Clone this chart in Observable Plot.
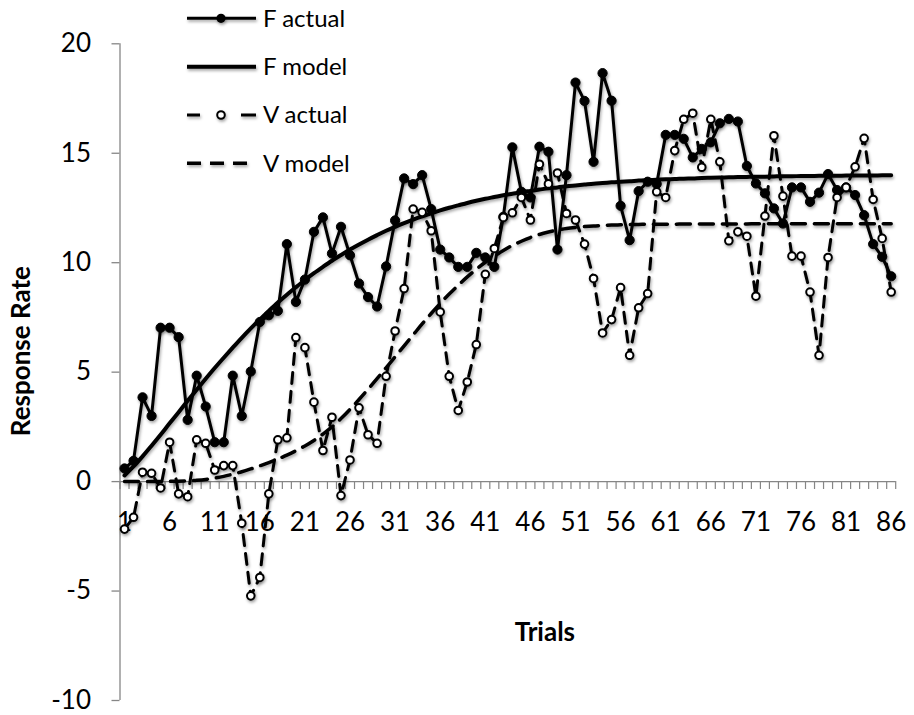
<!DOCTYPE html>
<html>
<head>
<meta charset="utf-8">
<script src="https://cdn.jsdelivr.net/npm/d3@7"></script>
<script src="https://cdn.jsdelivr.net/npm/@observablehq/plot@0.6"></script>
<style>
  html, body { margin: 0; padding: 0; background: #fff; }
  #wrap { position: relative; width: 914px; height: 715px; font-family: Lato, "Open Sans", sans-serif; }
  #legend { position: absolute; left: 0; top: 0; }
</style>
</head>
<body>
<div id="wrap">
  <div id="chart"></div>
  <svg id="legend" width="380" height="190"></svg>
</div>
<script>
// ---- Data ----
const trials = [1,2,3,4,5,6,7,8,9,10,11,12,13,14,15,16,17,18,19,20,21,22,23,24,25,26,27,28,29,30,
  31,32,33,34,35,36,37,38,39,40,41,42,43,44,45,46,47,48,49,50,51,52,53,54,55,56,57,58,59,60,
  61,62,63,64,65,66,67,68,69,70,71,72,73,74,75,76,77,78,79,80,81,82,83,84,85,86];

const fActual = [0.6,0.95,3.85,3.0,7.03,7.03,6.6,2.82,4.84,3.43,1.8,1.8,4.84,3.0,5.03,7.29,7.6,7.8,10.85,8.21,
  9.23,11.41,12.07,10.42,11.64,10.34,9.05,8.43,8.0,9.83,11.93,13.85,13.59,14.0,12.45,10.6,10.24,9.81,9.81,10.45,
  10.24,9.81,12.1,15.27,13.24,12.98,15.3,15.07,10.6,14.0,18.23,17.39,14.61,18.66,17.4,12.6,11.03,13.27,13.7,13.6,
  15.84,15.84,15.66,14.81,15.2,15.5,16.37,16.57,16.45,14.42,13.62,13.17,12.48,11.79,13.44,13.44,12.78,13.2,14.05,13.32,
  13.44,13.09,12.17,10.85,10.27,9.38];

const fModel = [0.28,0.69,1.15,1.64,2.14,2.66,3.17,3.69,4.2,4.7,5.19,5.66,6.12,6.57,7.0,7.41,7.8,8.18,8.54,8.88,
  9.21,9.52,9.81,10.09,10.35,10.6,10.83,11.05,11.26,11.46,11.64,11.81,11.97,12.12,12.26,12.39,12.51,12.62,12.73,12.83,
  12.92,13.0,13.08,13.15,13.22,13.28,13.34,13.4,13.44,13.49,13.53,13.57,13.61,13.64,13.67,13.7,13.72,13.75,13.77,13.79,
  13.81,13.82,13.84,13.85,13.87,13.88,13.89,13.9,13.91,13.92,13.93,13.93,13.94,13.95,13.95,13.96,13.96,13.97,13.97,13.97,
  13.98,13.98,13.98,13.98,13.99,13.99];

const vActual = [-2.17,-1.63,0.43,0.38,-0.29,1.8,-0.56,-0.69,1.91,1.75,0.53,0.73,0.73,-1.9,-5.22,-4.38,-0.56,1.91,2.0,6.58,
  6.12,3.63,1.42,2.94,-0.64,0.99,3.37,2.14,1.75,4.81,6.88,8.82,12.45,12.3,11.46,7.75,4.81,3.25,4.55,6.26,
  9.47,10.65,12.07,12.28,12.98,11.95,14.5,13.6,14.1,12.25,11.95,10.85,9.28,6.79,7.4,8.86,5.77,7.94,8.59,13.24,
  12.98,15.12,16.55,16.83,14.36,16.55,14.61,11.0,11.41,11.21,8.47,12.13,15.8,13.04,10.3,10.3,8.66,5.77,10.24,12.98,
  13.44,14.38,15.68,12.89,11.11,8.66];

const vModel = [0,0,0,0,0,0.01,0.02,0.03,0.06,0.1,0.16,0.24,0.34,0.45,0.58,0.72,0.87,1.03,1.21,1.41,
  1.63,1.88,2.17,2.5,2.88,3.3,3.75,4.22,4.7,5.2,5.7,6.2,6.7,7.2,7.68,8.14,8.57,8.97,9.35,9.7,
  10.02,10.3,10.56,10.79,10.98,11.15,11.29,11.4,11.49,11.56,11.61,11.65,11.68,11.7,11.72,11.73,11.74,11.75,11.76,11.76,
  11.76,11.76,11.77,11.77,11.77,11.77,11.77,11.77,11.77,11.77,11.78,11.78,11.78,11.78,11.78,11.78,11.78,11.78,11.78,11.78,
  11.78,11.78,11.78,11.78,11.78,11.78];

const xTickLabels = [1,6,11,16,21,26,31,36,41,46,51,56,61,66,71,76,81,86];
const yTickLabels = [-10,-5,0,5,10,15,20];
const seriesNames = ["F actual","F model","V actual","V model"];
const xLabel = "Trials";
const yLabel = "Response Rate";

// ---- Table built from the arrays ----
const rows = trials.map((t, i) => ({trial: t, fA: fActual[i], fM: fModel[i], vA: vActual[i], vM: vModel[i]}));
const tickBounds = [0.5, ...trials.map(t => t + 0.5)];

const gray = "#868686";
const FONT = "Lato, 'Open Sans', sans-serif";

const chart = Plot.plot({
  width: 914,
  height: 715,
  marginLeft: 119.5,
  marginRight: 18.8,
  marginTop: 43.3,
  marginBottom: 15,
  style: {fontFamily: FONT, background: "white", color: "black", overflow: "visible"},
  x: {domain: [0.5, 86.5], axis: null},
  y: {domain: [-10, 20], axis: null},
  marks: [
    // axes
    Plot.ruleX([0.5], {stroke: gray, strokeWidth: 1.3}),
    Plot.axisY(yTickLabels, {anchor: "left", tickSize: 8, tickPadding: 21, stroke: gray, strokeWidth: 1.3,
      fontSize: 26, label: null, tickFormat: d => String(d), fill: "black"}),
    Plot.ruleY([0], {stroke: gray, strokeWidth: 1.3}),
    Plot.ruleX(tickBounds, {x: d => d, y1: 0, y2: -0.36, stroke: gray, strokeWidth: 1.2}),
    Plot.text(xTickLabels, {x: d => d, y: 0, text: d => String(d), dy: 41, fontSize: 26, fill: "black"}),
    Plot.text([xLabel], {frameAnchor: "bottom", lineAnchor: "middle", textAnchor: "middle", dx: 37, dy: -68,
      fontSize: 26, fontWeight: "bold", fill: "black"}),
    Plot.text([yLabel], {frameAnchor: "left", textAnchor: "middle", lineAnchor: "middle", dx: -98, dy: -21, rotate: -90,
      fontSize: 26, fontWeight: "bold", fill: "black"}),
    // lines
    Plot.line(rows, {x: "trial", y: "fA", stroke: "black", strokeWidth: 3, strokeLinejoin: "round"}),
    Plot.line(rows, {x: "trial", y: "fM", stroke: "black", strokeWidth: 4, curve: "catmull-rom"}),
    Plot.line(rows, {x: "trial", y: "vA", stroke: "black", strokeWidth: 3, strokeDasharray: "11,8"}),
    Plot.line(rows, {x: "trial", y: "vM", stroke: "black", strokeWidth: 3.5, strokeDasharray: "14,9", curve: "catmull-rom"}),
    // markers
    Plot.dot(rows, {x: "trial", y: "fA", r: 4.6, fill: "black", stroke: "black", strokeWidth: 1}),
    Plot.dot(rows, {x: "trial", y: "vA", r: 3.8, fill: "white", stroke: "black", strokeWidth: 2})
  ]
});
d3.select(chart).selectAll('g[aria-label="line"], g[aria-label="dot"]')
  .style("filter", "drop-shadow(1.5px 2px 1.5px rgba(0,0,0,0.35))");
document.getElementById("chart").appendChild(chart);

// ---- Legend (overlay at top left) ----
const lg = d3.select("#legend");
const rowY = [18.3, 66.7, 115, 163.3];
const x0 = 187, x1 = 256, xm = 221;
const sh = "drop-shadow(1.5px 2px 1.5px rgba(0,0,0,0.35))";
// F actual
lg.append("line").attr("x1", x0).attr("x2", x1).attr("y1", rowY[0]).attr("y2", rowY[0])
  .attr("stroke", "black").attr("stroke-width", 3).style("filter", sh);
lg.append("circle").attr("cx", xm).attr("cy", rowY[0]).attr("r", 4.6).attr("fill", "black").style("filter", sh);
// F model
lg.append("line").attr("x1", x0).attr("x2", x1).attr("y1", rowY[1]).attr("y2", rowY[1])
  .attr("stroke", "black").attr("stroke-width", 4).style("filter", sh);
// V actual
[[x0, x0 + 13], [x1 - 15, x1]].forEach(([a, b]) =>
  lg.append("line").attr("x1", a).attr("x2", b).attr("y1", rowY[2]).attr("y2", rowY[2])
    .attr("stroke", "black").attr("stroke-width", 3).style("filter", sh));
lg.append("circle").attr("cx", xm).attr("cy", rowY[2]).attr("r", 3.8).attr("fill", "white")
  .attr("stroke", "black").attr("stroke-width", 2).style("filter", sh);
// V model
lg.append("line").attr("x1", x0).attr("x2", x1).attr("y1", rowY[3]).attr("y2", rowY[3])
  .attr("stroke", "black").attr("stroke-width", 3.5).attr("stroke-dasharray", "14,9").style("filter", sh);
seriesNames.forEach((name, i) => {
  lg.append("text").attr("x", 263).attr("y", rowY[i]).attr("dy", "0.35em")
    .attr("font-family", FONT).attr("font-size", 24).attr("fill", "black").text(name);
});
</script>
</body>
</html>
